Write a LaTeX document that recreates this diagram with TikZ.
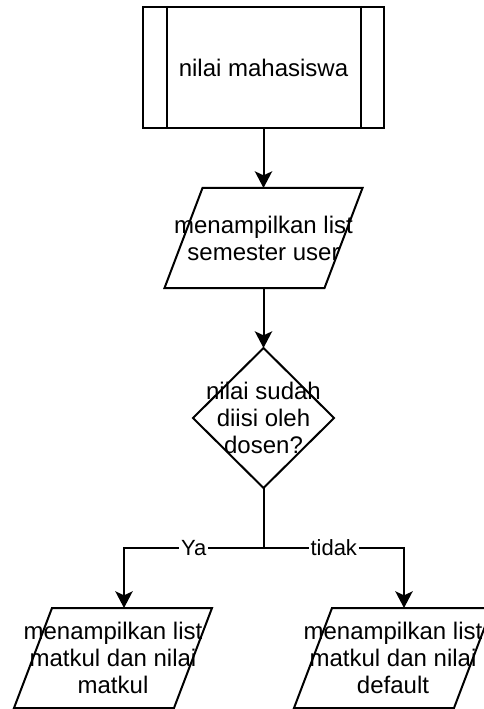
\documentclass[tikz,border=0pt]{standalone}
\usepackage{fontspec}
\setmainfont{Liberation Sans}
\usetikzlibrary{positioning,arrows.meta,calc}

\begin{document}
\begin{tikzpicture}[>={Stealth[length=12.5pt,width=13pt,inset=3pt]},line width=1.5pt,
                    node distance=45pt,
                    every node/.style={font=\fontsize{18}{20.25}\selectfont},
                    box/.style={draw,rectangle,minimum width=180.75pt,minimum height=90.75pt},
                    io/.style={rectangle,minimum width=148.5pt,minimum height=75pt,inner sep=0pt,outer sep=0pt,align=center},
                    decision/.style={rectangle,minimum width=105.75pt,minimum height=105pt,inner sep=0pt,outer sep=0pt,align=center},
                    lbl/.style={fill=white,inner sep=1.5pt,font=\fontsize{16.5}{18}\selectfont}]

  \useasboundingbox (-197.625pt,50.625pt) rectangle (164.625pt,-481.125pt);

  \node[box] (mhs) {nilai mahasiswa};
  \node[io] (list) [below=44.25pt of mhs] {menampilkan list\\semester user};
  \node[decision] (cek) [below=of list] {nilai sudah\\diisi oleh\\dosen?};
  \node[io] (ya) [below=90pt of cek, xshift=-112.875pt] {menampilkan list\\matkul dan nilai\\matkul};
  \node[io] (tidak) [below=90pt of cek, xshift=97.125pt] {menampilkan list\\matkul dan nilai\\default};

  % outlines
  \draw ([xshift=18.75pt]mhs.north west) -- ([xshift=18.75pt]mhs.south west)
        ([xshift=-18pt]mhs.north east) -- ([xshift=-18pt]mhs.south east);
  \foreach \n in {list,ya,tidak}
    \draw ([xshift=28.5pt]\n.north west) -- (\n.north east) -- ([xshift=-28.5pt]\n.south east) -- (\n.south west) -- cycle;
  \draw (cek.north) -- (cek.east) -- (cek.south) -- (cek.west) -- cycle;

  % flow
  \draw[->] (mhs) -- (list);
  \draw[->] (list) -- (cek);
  \coordinate (split) at ([yshift=-45pt]cek.south);
  \draw[->] (cek.south) -- (split) -| node[lbl,pos=0.25] {Ya} ([xshift=8.25pt]ya.north);
  \draw[->] (cek.south) -- (split) -| node[lbl,pos=0.25] {tidak} ([xshift=8.25pt]tidak.north);
\end{tikzpicture}
\end{document}
